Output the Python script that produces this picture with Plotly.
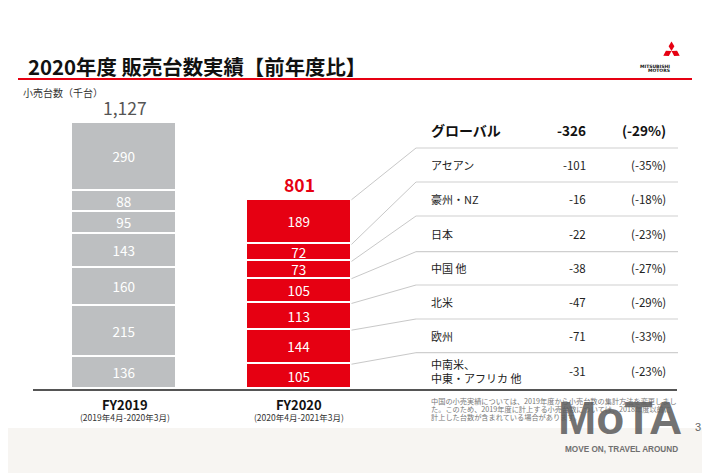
import math
import plotly.graph_objects as go

W, H = 710, 473
JP = "Noto Sans CJK JP"

# ---------------- data ----------------
years = ["FY2019", "FY2020"]
year_sub = ["(2019年4月-2020年3月)", "(2020年4月-2021年3月)"]
regions = ["アセアン", "豪州・NZ", "日本", "中国 他", "北米", "欧州", "中南米、<br>中東・アフリカ 他"]
fy2019 = [290, 88, 95, 143, 160, 215, 136]
fy2020 = [189, 72, 73, 105, 113, 144, 105]
change = [-101, -16, -22, -38, -47, -71, -31]
change_pct = [-35, -18, -23, -27, -29, -33, -23]
total_2019 = 1127
total_2020 = 801
global_change = -326
global_pct = -29

GREY = "#BDBFC1"
RED = "#E60012"

# ---------------- pixel helpers (layout only; page body has an 8px margin) ----------------
OFF = 8.0

def px(x):
    return (x - OFF) / W

def py(y):
    return 1 - (y - OFF) / H

BASE_Y = 389.0       # baseline pixel
K = 0.2363           # pixels per unit
TOP_Y = 100.0
X0_PX, X1_PX = 33.0, 680.0
C0, C1 = 124.5, 299.0   # bar centres in px
UNIT = C1 - C0
BAR_W = 105.0 / UNIT
xr0 = 0 - (C0 - X0_PX) / UNIT
xr1 = xr0 + (X1_PX - X0_PX) / UNIT

def xd(xpix):
    return (xpix - C0) / UNIT

def yd(ypix):
    return (BASE_Y - ypix) / K

fig = go.Figure()

# stacked bars, bottom segment first
for i in reversed(range(len(regions))):
    fig.add_trace(go.Bar(
        x=[0, 1], y=[fy2019[i], fy2020[i]],
        width=BAR_W,
        marker=dict(color=[GREY, RED], line=dict(color="white", width=1.6)),
        texttemplate="%{y}", textposition="inside", insidetextanchor="middle", textangle=0,
        textfont=dict(color="white", size=13.5, family=JP),
        hoverinfo="skip", showlegend=False,
    ))

shapes = []
ann = []

# background band at bottom
shapes.append(dict(type="rect", xref="paper", yref="paper", x0=0, x1=1, y0=0, y1=py(428),
                   fillcolor="#F7F5F2", line=dict(width=0), layer="below"))
# title underline
shapes.append(dict(type="line", xref="paper", yref="paper", x0=px(18), x1=px(692), y0=py(79), y1=py(79),
                   line=dict(color=RED, width=2.2)))
# baseline
shapes.append(dict(type="line", xref="paper", yref="paper", x0=px(33), x1=px(677), y0=py(390), y1=py(390),
                   line=dict(color="#555555", width=2)))

# table row lines
row_lines = [148, 182, 216, 251.7, 285, 319, 352.7]
for yl in row_lines:
    shapes.append(dict(type="line", xref="paper", yref="paper", x0=px(416), x1=px(678), y0=py(yl), y1=py(yl),
                       line=dict(color="#CFCFCF", width=1.2)))

# connector lines from FY2020 segment tops to table rows
cum = total_2020
tops = []
for i in range(len(regions)):
    tops.append(cum)
    cum -= fy2020[i]
for i, t in enumerate(tops):
    shapes.append(dict(type="line", xref="x", yref="y", x0=1 + BAR_W / 2, y0=t,
                       x1=xd(416), y1=yd(row_lines[i]),
                       line=dict(color="#C8C8C8", width=1)))

# Mitsubishi logo (three diamonds)
def poly(pts):
    return "M " + " L ".join(f"{px(a):.5f},{py(b):.5f}" for a, b in pts) + " Z"

cx, cy = 671.5, 51.0
L = 9.5
hw = 2.9
for ang in (90, 210, 330):
    dx, dy = math.cos(math.radians(ang)), -math.sin(math.radians(ang))
    far = (cx + dx * L, cy + dy * L)
    mid = (cx + dx * L / 2, cy + dy * L / 2)
    nx, ny = -dy, dx
    pts = [(cx, cy), (mid[0] + nx * hw, mid[1] + ny * hw), far, (mid[0] - nx * hw, mid[1] - ny * hw)]
    shapes.append(dict(type="path", xref="paper", yref="paper", path=poly(pts),
                       fillcolor=RED, line=dict(width=0)))
ann.append(dict(x=px(672), y=py(61.5), xref="paper", yref="paper", text="<b>MITSUBISHI</b>", showarrow=False,
                font=dict(size=4.5, color="#111", family="DejaVu Sans")))
ann.append(dict(x=px(672), y=py(66), xref="paper", yref="paper", text="<b>MOTORS</b>", showarrow=False,
                font=dict(size=4.5, color="#111", family="DejaVu Sans")))

# title
ann.append(dict(x=px(26), y=py(66), xref="paper", yref="paper", xanchor="left", yanchor="middle",
                text="2020年度 販売台数実績【前年度比】", showarrow=False,
                font=dict(size=20.4, color="#111111", family=JP, weight="bold")))
# unit label
ann.append(dict(x=px(21), y=py(92), xref="paper", yref="paper", xanchor="left", yanchor="middle",
                text="小売台数（千台）", showarrow=False, font=dict(size=10, color="#333", family=JP)))

# totals
ann.append(dict(x=0, y=total_2019, xref="x", yref="y", yanchor="bottom", yshift=1, showarrow=False,
                text=f"{total_2019:,}", font=dict(size=17.5, color="#555555", family=JP)))
ann.append(dict(x=1, y=total_2020, xref="x", yref="y", yanchor="bottom", yshift=1, showarrow=False,
                text=f"<b>{total_2020:,}</b>", font=dict(size=17.5, color=RED, family=JP)))

# year labels
for i in range(2):
    ann.append(dict(x=i, y=py(404), xref="x", yref="paper", yanchor="middle", showarrow=False,
                    text=f"<b>{years[i]}</b>", font=dict(size=13, color="#111", family=JP)))
    ann.append(dict(x=i, y=py(416.5), xref="x", yref="paper", yanchor="middle", showarrow=False,
                    text=year_sub[i], font=dict(size=8.5, color="#333", family=JP)))

# table header
ann.append(dict(x=px(429), y=py(130), xref="paper", yref="paper", xanchor="left", yanchor="middle",
                showarrow=False, text="<b>グローバル</b>", font=dict(size=14, color="#111", family=JP)))
ann.append(dict(x=px(588), y=py(130), xref="paper", yref="paper", xanchor="right", yanchor="middle",
                showarrow=False, text=f"<b>{global_change}</b>", font=dict(size=13.5, color="#111", family=JP)))
ann.append(dict(x=px(668), y=py(130), xref="paper", yref="paper", xanchor="right", yanchor="middle",
                showarrow=False, text=f"<b>({global_pct}%)</b>", font=dict(size=13.5, color="#111", family=JP)))

# table rows
edges = row_lines + [390]
for i in range(len(regions)):
    yc = (edges[i] + edges[i + 1]) / 2
    ann.append(dict(x=px(429), y=py(yc), xref="paper", yref="paper", xanchor="left", yanchor="middle",
                    showarrow=False, align="left", text=regions[i],
                    font=dict(size=11, color="#222", family=JP)))
    ann.append(dict(x=px(588), y=py(yc), xref="paper", yref="paper", xanchor="right", yanchor="middle",
                    showarrow=False, text=f"{change[i]}", font=dict(size=11.5, color="#222", family=JP)))
    ann.append(dict(x=px(668), y=py(yc), xref="paper", yref="paper", xanchor="right", yanchor="middle",
                    showarrow=False, text=f"({change_pct[i]}%)", font=dict(size=11.5, color="#222", family=JP)))

# footnote
foot = ["中国の小売実績については、2019年度から小売台数の集計方法を変更しまし",
        "た。このため、2019年度に計上する小売台数については、2018年度以前に",
        "計上した台数が含まれている場合があります。"]
for j, line in enumerate(foot):
    ann.append(dict(x=px(429), y=py(400.7 + j * 8.1), xref="paper", yref="paper", xanchor="left",
                    yanchor="middle", showarrow=False, text=line,
                    font=dict(size=7.2, color="#777", family=JP)))

# watermark
ann.append(dict(x=px(620), y=py(418), xref="paper", yref="paper", xanchor="center", yanchor="middle",
                showarrow=False, text="<b>MoTA</b>",
                font=dict(size=46, color="rgba(95,95,95,0.88)", family="Liberation Sans")))
ann.append(dict(x=px(621), y=py(449), xref="paper", yref="paper", xanchor="center", yanchor="middle",
                showarrow=False, text="<b>MOVE ON, TRAVEL AROUND</b>",
                font=dict(size=8.2, color="#707070", family="Liberation Sans")))
ann.append(dict(x=px(698), y=py(427), xref="paper", yref="paper", xanchor="center", yanchor="middle",
                showarrow=False, text="3", font=dict(size=11, color="#666", family="Liberation Sans")))

fig.update_layout(
    width=W, height=H,
    margin=dict(l=0, r=0, t=0, b=0),
    paper_bgcolor="white", plot_bgcolor="rgba(0,0,0,0)",
    barmode="stack", bargap=0,
    uniformtext=dict(minsize=13.5, mode="show"),
    xaxis=dict(domain=[px(X0_PX), px(X1_PX)], range=[xr0, xr1], visible=False, fixedrange=True),
    yaxis=dict(domain=[py(BASE_Y), py(TOP_Y)], range=[0, (BASE_Y - TOP_Y) / K], visible=False, fixedrange=True),
    shapes=shapes, annotations=ann,
    font=dict(family=JP),
)

fig.write_html("out.html")
